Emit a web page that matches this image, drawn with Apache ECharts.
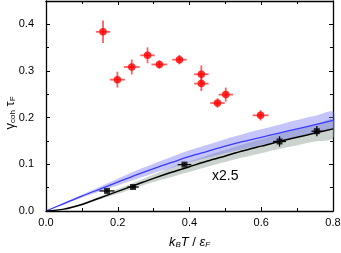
<!DOCTYPE html>
<html><head><meta charset="utf-8">
<script src="https://cdn.jsdelivr.net/npm/echarts@6/dist/echarts.min.js"></script>
<style>html,body{margin:0;padding:0;background:#fff}#c{width:341px;height:253px}</style>
</head><body><div id="c"></div>
<script>
// Red data (gamma_coh * tau_F)
const redX    = [0.159, 0.199, 0.239, 0.283, 0.316, 0.372, 0.433, 0.433, 0.478, 0.501, 0.598];
const redY    = [0.384, 0.2815, 0.3086, 0.3336, 0.314, 0.3243, 0.293, 0.273, 0.2314, 0.2494, 0.205];
const redXErr = [0.02, 0.021, 0.022, 0.02, 0.022, 0.02, 0.02, 0.02, 0.02, 0.02, 0.022];
const redYErr = [0.024, 0.017, 0.016, 0.017, 0.009, 0.01, 0.019, 0.016, 0.01, 0.015, 0.011];
// Black data (scaled x2.5)
const blkX    = [0.170, 0.2426, 0.386, 0.651, 0.755];
const blkY    = [0.043, 0.0514, 0.0994, 0.149, 0.171];
const blkXErr = [0.021, 0.016, 0.019, 0.018, 0.015];
const blkYErr = [0.004, 0.003, 0.003, 0.011, 0.011];
// Theory curves
const curveX  = [0, 0.05, 0.1, 0.15, 0.2, 0.25, 0.3, 0.35, 0.4, 0.45, 0.5, 0.55, 0.6, 0.65, 0.7, 0.75, 0.8];
const blueY   = [0, 0.016, 0.032, 0.047, 0.062, 0.077, 0.091, 0.104, 0.117, 0.128, 0.139, 0.149, 0.158, 0.167, 0.176, 0.185, 0.194];
const blueLo  = [0, 0.014, 0.029, 0.042, 0.055, 0.068, 0.081, 0.092, 0.104, 0.114, 0.124, 0.133, 0.141, 0.150, 0.159, 0.168, 0.177];
const blueHi  = [0, 0.018, 0.035, 0.052, 0.069, 0.086, 0.101, 0.116, 0.130, 0.142, 0.154, 0.165, 0.175, 0.185, 0.195, 0.204, 0.213];
const blackY  = [0, 0.004, 0.014, 0.028, 0.042, 0.056, 0.070, 0.083, 0.095, 0.107, 0.118, 0.129, 0.139, 0.149, 0.158, 0.167, 0.176];
const blackLo = [0, 0.003, 0.012, 0.025, 0.037, 0.050, 0.062, 0.073, 0.084, 0.095, 0.105, 0.115, 0.124, 0.133, 0.141, 0.149, 0.156];
const blackHi = [0, 0.005, 0.016, 0.031, 0.047, 0.062, 0.078, 0.093, 0.106, 0.119, 0.131, 0.143, 0.154, 0.165, 0.175, 0.185, 0.196];
// Axis ticks
const xTicks = {min: 0, max: 0.8, step: 0.2};
const yTicks = {min: 0, max: 0.45, step: 0.1};

const FONT = 'Liberation Sans, Arial, sans-serif';

function bandData(lo, hi) { return curveX.map((x, i) => [x, lo[i], hi[i]]); }
function bandRender(color) {
  return function (params, api) {
    if (params.dataIndexInside !== 0) return null;
    const n = curveX.length;
    const top = [], bot = [];
    for (let i = 0; i < n; i++) {
      top.push(api.coord([curveX[i], api.value(2, i)]));
      bot.push(api.coord([curveX[i], api.value(1, i)]));
    }
    const pts = top.concat(bot.reverse());
    return { type: 'polygon', shape: { points: pts, smooth: 0.3 }, style: { fill: color }, silent: true };
  };
}
function errData(xs, ys, xe, ye) { return xs.map((x, i) => [x, ys[i], xe[i], ye[i]]); }
function errRender(color, w) {
  return function (params, api) {
    const x = api.value(0), y = api.value(1), ex = api.value(2), ey = api.value(3);
    const a = api.coord([x - ex, y]), b = api.coord([x + ex, y]);
    const c = api.coord([x, y - ey]), d = api.coord([x, y + ey]);
    return { type: 'group', children: [
      { type: 'line', shape: { x1: a[0], y1: a[1], x2: b[0], y2: b[1] }, style: { stroke: color, lineWidth: w } },
      { type: 'line', shape: { x1: c[0], y1: c[1], x2: d[0], y2: d[1] }, style: { stroke: color, lineWidth: w } }
    ]};
  };
}

const axisCommon = {
  axisLine: { show: true, onZero: false, lineStyle: { color: '#000', width: 1.3 } },
  axisTick: { show: true, inside: true, length: 4, lineStyle: { color: '#000', width: 1 } },
  minorTick: { show: true, splitNumber: 2, length: 3, lineStyle: { color: '#000', width: 1 } },
  splitLine: { show: false }
};

const chart = echarts.init(document.getElementById('c'), null, { renderer: 'canvas' });
chart.setOption({
  animation: false,
  backgroundColor: '#fff',
  grid: { left: 46, right: 8, top: 1, bottom: 42, containLabel: false, outerBoundsMode: 'none' },
  xAxis: [
    Object.assign({}, axisCommon, {
      type: 'value', min: xTicks.min, max: xTicks.max, interval: xTicks.step, position: 'bottom',
      axisLabel: { color: '#000', fontSize: 11, fontFamily: FONT, margin: 6, formatter: v => v.toFixed(1) },
      name: '{i|k}{s|B}{i|T} / {i|ε}{s|F}', nameLocation: 'middle', nameGap: 24,
      nameTextStyle: { rich: {
        i: { fontSize: 13, fontStyle: 'italic', fontFamily: FONT, color: '#000' },
        s: { fontSize: 8, fontStyle: 'italic', fontFamily: FONT, color: '#000', padding: [6, 0, 0, 0] }
      }, fontSize: 13, fontFamily: FONT, color: '#000' }
    }),
    Object.assign({}, axisCommon, {
      type: 'value', min: xTicks.min, max: xTicks.max, interval: xTicks.step, position: 'top',
      axisLabel: { show: false }
    })
  ],
  yAxis: [
    Object.assign({}, axisCommon, {
      type: 'value', min: yTicks.min, max: yTicks.max, interval: yTicks.step, position: 'left',
      axisLabel: { color: '#000', fontSize: 11, fontFamily: FONT, margin: 12, showMaxLabel: false, formatter: v => v.toFixed(1) }
    }),
    Object.assign({}, axisCommon, {
      type: 'value', min: yTicks.min, max: yTicks.max, interval: yTicks.step, position: 'right',
      axisLabel: { show: false }
    })
  ],
  series: [
    { type: 'custom', name: 'grayBand', data: bandData(blackLo, blackHi), renderItem: bandRender('rgba(150,168,158,0.5)'), z: 1, silent: true },
    { type: 'custom', name: 'blueBand', data: bandData(blueLo, blueHi), renderItem: bandRender('rgba(110,110,245,0.4)'), z: 2, silent: true },
    { type: 'line', name: 'blue', data: curveX.map((x, i) => [x, blueY[i]]), showSymbol: false, smooth: 0.3,
      lineStyle: { color: '#3a3aff', width: 1.3 }, z: 3 },
    { type: 'line', name: 'black', data: curveX.map((x, i) => [x, blackY[i]]), showSymbol: false, smooth: 0.3,
      lineStyle: { color: '#000', width: 1.5 }, z: 3 },
    { type: 'custom', name: 'redErr', data: errData(redX, redY, redXErr, redYErr), renderItem: errRender('rgba(255,40,40,0.75)', 1.8), z: 4 },
    { type: 'scatter', name: 'red', data: redX.map((x, i) => [x, redY[i]]), symbol: 'circle', symbolSize: 7.5,
      itemStyle: { color: '#ff0000' }, z: 5 },
    { type: 'custom', name: 'blkErr', data: errData(blkX, blkY, blkXErr, blkYErr), renderItem: errRender('#000', 1.3), z: 4 },
    { type: 'scatter', name: 'blk', data: blkX.map((x, i) => [x, blkY[i]]), symbol: 'rect', symbolSize: 6,
      itemStyle: { color: '#000' }, z: 5 }
  ],
  graphic: [
    { type: 'text', left: 212, top: 169, style: { text: 'x2.5', fontSize: 14, fontFamily: FONT, fill: '#000' } },
    { type: 'text', x: 10, y: 113, rotation: Math.PI / 2,
      style: { text: '{i|γ}{s|coh} {i|τ}{s|F}', align: 'center', verticalAlign: 'middle',
        fontSize: 13, fontFamily: FONT, fill: '#000',
        rich: {
          i: { fontSize: 13, fontFamily: FONT, fill: '#000' },
          s: { fontSize: 8, fontFamily: FONT, fill: '#000', padding: [6, 0, 0, 0] }
        } } }
  ]
});
</script></body></html>
